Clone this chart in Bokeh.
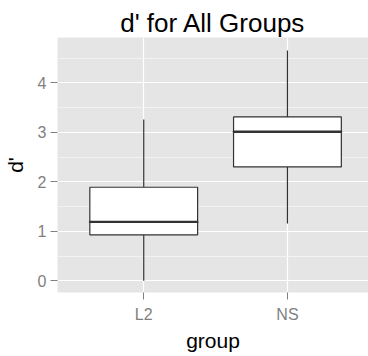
from bokeh.plotting import figure
from bokeh.models import Range1d, FixedTicker, ColumnDataSource
from bokeh.embed import file_html
from bokeh.resources import INLINE

groups = ["L2", "NS"]
lower = [0.00, 1.16]
q1 = [0.93, 2.30]
median = [1.19, 3.01]
q3 = [1.89, 3.31]
upper = [3.26, 4.65]
y_ticks = [0, 1, 2, 3, 4]

xs = [i + 1 for i in range(len(groups))]
src = ColumnDataSource(dict(x=xs, lower=lower, q1=q1, median=median, q3=q3, upper=upper))

FONT = "Liberation Sans"
p = figure(width=368, height=356, output_backend="svg", toolbar_location=None,
           x_range=Range1d(0.4, 2.564), y_range=Range1d(-0.236, 4.915),
           title="d' for All Groups",
           min_border_left=56, min_border_right=0, min_border_top=37, min_border_bottom=64)
p.background_fill_color = "#E5E5E5"
p.border_fill_color = "white"
p.outline_line_color = None

p.title.align = "center"
p.title.text_font = FONT
p.title.text_font_size = "26px"
p.title.text_font_style = "normal"
p.title.text_color = "black"
p.title.standoff = 0

# grids
p.xgrid.ticker = FixedTicker(ticks=xs)
p.xgrid.grid_line_color = "white"
p.xgrid.grid_line_width = 1.2
p.ygrid.ticker = FixedTicker(ticks=y_ticks, minor_ticks=[t + 0.5 for t in [-1] + y_ticks])
p.ygrid.grid_line_color = "white"
p.ygrid.grid_line_width = 1.2
p.ygrid.minor_grid_line_color = "#F2F2F2"
p.ygrid.minor_grid_line_width = 1

# axes
p.xaxis.ticker = FixedTicker(ticks=xs)
p.xaxis.major_label_overrides = {x: g for x, g in zip(xs, groups)}
p.yaxis.ticker = FixedTicker(ticks=y_ticks)
for ax in (p.xaxis[0], p.yaxis[0]):
    ax.axis_line_color = None
    ax.major_tick_line_color = "#7F7F7F"
    ax.major_tick_out = 7
    ax.major_tick_in = 0
    ax.minor_tick_line_color = None
    ax.major_label_text_font = FONT
    ax.major_label_text_font_size = "16px"
    ax.major_label_text_color = "#7F7F7F"
    ax.axis_label_text_font = FONT
    ax.axis_label_text_font_size = "21px"
    ax.axis_label_text_font_style = "normal"
    ax.axis_label_text_color = "black"
p.xaxis.axis_label = "group"
p.yaxis.axis_label = "d'"
p.xaxis.major_label_standoff = 6
p.yaxis.major_label_standoff = 4
p.xaxis.axis_label_standoff = 3
p.yaxis.axis_label_standoff = 8

box_color = "#333333"
p.segment(x0="x", y0="q3", x1="x", y1="upper", source=src, line_color=box_color, line_width=1.2)
p.segment(x0="x", y0="lower", x1="x", y1="q1", source=src, line_color=box_color, line_width=1.2)
p.vbar(x="x", width=0.75, bottom="q1", top="q3", source=src,
       fill_color="white", line_color=box_color, line_width=1.2)
p.rect(x="x", y="median", width=0.75, height=0.0001, source=src,
       fill_color=box_color, line_color=box_color, line_width=2.4)

open("out.html", "w").write(file_html(p, INLINE))
